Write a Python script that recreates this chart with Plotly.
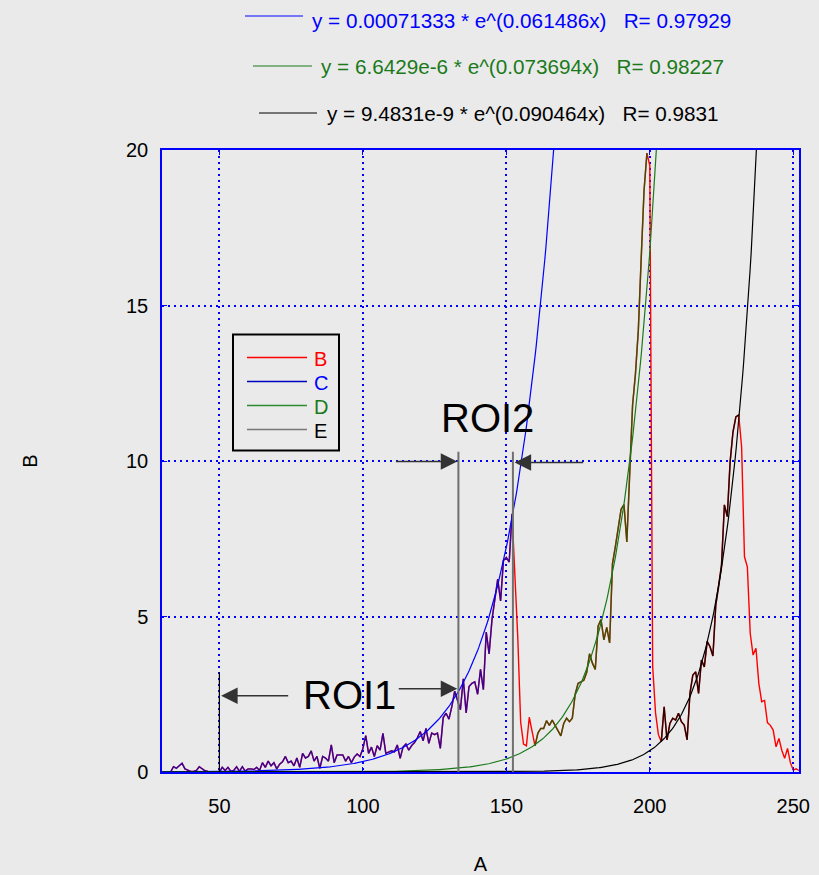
import numpy as np
import plotly.graph_objects as go

# ---------------- data ----------------
x_vals = list(range(33, 253))
b_vals = [
    0.0, 0.17, 0.12, 0.2, 0.28, 0.1, 0.05, 0.02, 0.02, 0.05,        # 33-42
    0.17, 0.1, 0.04, 0.02, 0.0, 0.0, 0.0, 0.0, 0.15, 0.05,          # 43-52
    0.15, 0.02, 0.05, 0.17, 0.02, 0.17, 0.03, 0.1, 0.1, 0.08,       # 53-62
    0.15, 0.05, 0.3, 0.15, 0.35, 0.2, 0.3, 0.1, 0.25, 0.33,         # 63-72
    0.5, 0.3, 0.35, 0.2, 0.45, 0.15, 0.6, 0.45, 0.5, 0.68,          # 73-82
    0.35, 0.5, 0.12, 0.5, 0.45, 0.35, 0.87, 0.3, 0.55, 0.55,        # 83-92
    0.55, 0.35, 0.5, 0.3, 0.48, 0.58, 0.5, 0.75, 1.17, 0.6,         # 93-102
    0.8, 0.5, 0.85, 0.7, 1.24, 0.6, 0.65, 0.68, 0.65, 0.87,         # 103-112
    0.44, 0.8, 0.9, 0.7, 0.85, 0.95, 1.1, 1.3, 1.0, 1.4,            # 113-122
    0.92, 1.25, 1.2, 1.25, 0.76, 1.75, 1.89, 1.7, 2.1, 2.6,         # 123-132
    2.3, 2.0, 3.0, 1.9, 2.75, 2.85, 2.9, 2.5, 3.3, 2.65,            # 133-142
    4.5, 3.8, 4.9, 5.5, 6.2, 5.5, 6.8, 6.9, 6.75, 8.3,              # 143-152
    6.2, 4.3, 1.6, 0.9, 0.84, 1.76, 1.3, 0.84, 1.25, 1.4,           # 153-162
    1.4, 1.65, 1.5, 1.67, 1.5, 1.35, 1.16, 1.56, 1.73, 1.62,        # 163-172
    1.73, 2.5, 2.85, 2.9, 2.95, 3.2, 3.8, 3.5, 3.3, 4.7,            # 173-182
    4.9, 4.25, 4.65, 4.15, 6.7, 7.25, 7.8, 8.45, 8.6, 7.4,          # 183-192
    9.6, 11.8, 12.8, 14.2, 16.5, 18.7, 19.9, 19.5, 3.4, 1.9,        # 193-202
    1.2, 0.97, 2.1, 1.03, 1.56, 1.73, 1.67, 1.89, 1.62, 1.51,       # 203-212
    1.03, 2.53, 3.12, 3.22, 2.53, 3.6, 3.38, 4.2, 4.03, 3.73,       # 213-222
    5.37, 5.96, 6.66, 8.59, 8.21, 9.98, 10.94, 11.42, 11.48, 10.46, # 223-232
    6.92, 6.6, 4.46, 3.76, 3.98, 2.85, 2.26, 2.3, 1.59, 1.5,        # 233-242
    1.35, 0.81, 1.08, 0.7, 0.44, 0.76, 0.3, 0.06, 0.1, 0.05,        # 243-252
]

# subsets (C, D, E) of the same measurement, x-limits
subset_names = ["C", "D", "E"]
subset_lo = [33, 160, 204]
subset_hi = [152, 199, 231]

# exponential fits y = a * exp(b x)
fit_a = [0.00071333, 6.6429e-6, 9.4831e-9]
fit_b = [0.061486, 0.073694, 0.090464]
fit_labels = [
    "y = 0.00071333 * e^(0.061486x)\u00a0\u00a0\u00a0R= 0.97929",
    "y = 6.6429e-6 * e^(0.073694x)\u00a0\u00a0\u00a0R= 0.98227",
    "y = 9.4831e-9 * e^(0.090464x)\u00a0\u00a0\u00a0R= 0.9831",
]

# regions of interest
roi_x = [50, 133.3, 152.3]
roi_top = [3.2, 10.3, 10.3]
roi_names = ["ROI1", "ROI2"]

x_ticks = [50, 100, 150, 200, 250]
y_ticks = [0, 5, 10, 15, 20]

# ---------------- styling ----------------
BG = "#EAEAEA"
FONT = "Liberation Sans, Arial, sans-serif"
RED = "#FF0000"
BLUE = "#0000FF"
GREEN = "#1A7A1A"
subset_colors = ["rgba(0,0,190,0.75)", "rgba(0,100,0,0.7)", "rgba(0,0,0,0.8)"]
fit_colors = [BLUE, GREEN, "#000000"]
legend_line_colors = [RED, "#0000C0", "#2E8B2E", "#777777"]
legend_text_colors = [RED, BLUE, GREEN, "#000000"]

W, H = 819, 875
PL, PR, PT, PB = 162, 799, 150, 772


def px(xp):
    return (xp - PL) / (PR - PL)


def py(yp):
    return (PB - yp) / (PB - PT)


fig = go.Figure()

# full series B
fig.add_trace(go.Scatter(x=x_vals, y=b_vals, mode="lines", name="B",
                         line=dict(color=RED, width=1.4)))

# subsets
for name, lo, hi, col in zip(subset_names, subset_lo, subset_hi, subset_colors):
    xs = [x for x in x_vals if lo <= x <= hi]
    ys = [y for x, y in zip(x_vals, b_vals) if lo <= x <= hi]
    fig.add_trace(go.Scatter(x=xs, y=ys, mode="lines", name=name,
                             line=dict(color=col, width=1.5)))

# fit curves
xf = np.linspace(30, 252, 600)
for a, b, col in zip(fit_a, fit_b, fit_colors):
    fig.add_trace(go.Scatter(x=xf, y=a * np.exp(b * xf), mode="lines",
                             line=dict(color=col, width=1.2), hoverinfo="skip"))

shapes = []
annotations = []

# ROI vertical lines
roi_colors = ["#000000", "#707070", "#707070"]
roi_widths = [1.2, 2, 2]
for xr, top, c, w in zip(roi_x, roi_top, roi_colors, roi_widths):
    shapes.append(dict(type="line", xref="x", yref="y", x0=xr, x1=xr, y0=0, y1=top,
                       line=dict(color=c, width=w)))

# ROI labels
annotations.append(dict(x=95.3, y=2.48, xref="x", yref="y", text=roi_names[0],
                        showarrow=False, font=dict(size=40, color="black", family=FONT)))
annotations.append(dict(x=143.5, y=11.38, xref="x", yref="y", text=roi_names[1],
                        showarrow=False, font=dict(size=40, color="black", family=FONT)))

# ROI arrows (tip, tail)
arrows = [
    (roi_x[0] + 0.6, 2.45, 74.5, 2.45),
    (roi_x[1] - 0.4, 2.68, 112.0, 2.68),
    (roi_x[1] - 0.4, 9.98, 111.0, 9.98),
    (roi_x[2] + 0.6, 9.95, 177.3, 9.95),
]
for tx, ty, ax, ay in arrows:
    annotations.append(dict(x=tx, y=ty, ax=ax, ay=ay, xref="x", yref="y",
                            axref="x", ayref="y", text="", showarrow=True,
                            arrowhead=2, arrowsize=2.2, arrowwidth=1.5,
                            arrowcolor="#333333", standoff=0, startstandoff=0))

# top fit equations with line samples
eq_rows = [
    (245, 303, 16, 310, 20),
    (253, 312, 66, 319, 67),
    (259, 317, 113, 325, 114),
]
for (l0, l1, ly, tx, ty), lab, col in zip(eq_rows, fit_labels, fit_colors):
    shapes.append(dict(type="line", xref="paper", yref="paper", x0=px(l0), x1=px(l1),
                       y0=py(ly), y1=py(ly), line=dict(color=col, width=1.2)))
    annotations.append(dict(x=px(tx), y=py(ty), xref="paper", yref="paper",
                            xanchor="left", yanchor="middle", text=lab, showarrow=False,
                            font=dict(size=20.7, color=col, family=FONT)))

# legend box
shapes.append(dict(type="rect", xref="paper", yref="paper", x0=px(233), x1=px(339),
                   y0=py(450.5), y1=py(334.5), line=dict(color="black", width=2)))
leg_names = ["B"] + subset_names
leg_y = [357.5, 381.5, 405.5, 429.5]
for name, yy, lc, tc in zip(leg_names, leg_y, legend_line_colors, legend_text_colors):
    shapes.append(dict(type="line", xref="paper", yref="paper", x0=px(247), x1=px(307),
                       y0=py(yy), y1=py(yy), line=dict(color=lc, width=1.5)))
    annotations.append(dict(x=px(312), y=py(yy + 1), xref="paper", yref="paper",
                            xanchor="left", yanchor="middle", text=name, showarrow=False,
                            font=dict(size=20, color=tc, family=FONT)))

axis_common = dict(
    showgrid=True, gridcolor="#0000FF", griddash="2px,4px", gridwidth=1.6,
    showline=True, linecolor="blue", linewidth=1.5, mirror="ticks",
    ticks="inside", ticklen=5, tickcolor="blue", tickwidth=1.2,
    zeroline=False, automargin=False,
    tickfont=dict(size=20, color="black", family=FONT),
)

fig.update_layout(
    width=W, height=H,
    margin=dict(l=PL, r=W - PR, t=PT, b=H - PB, autoexpand=False),
    paper_bgcolor=BG, plot_bgcolor=BG,
    font=dict(family=FONT, size=20, color="black"),
    showlegend=False,
    shapes=shapes, annotations=annotations,
    xaxis=dict(range=[30, 252], tickvals=x_ticks, ticklabelstandoff=15,
               title=dict(text="A", standoff=47, font=dict(size=20)), **axis_common),
    yaxis=dict(range=[0, 20], tickvals=y_ticks, ticklabelstandoff=8,
               title=dict(text="B", standoff=83, font=dict(size=20)), **axis_common),
)

fig.write_html("out.html", config={"displayModeBar": False},
               post_script="document.body.style.margin='0';document.body.style.background='%s';" % BG)
